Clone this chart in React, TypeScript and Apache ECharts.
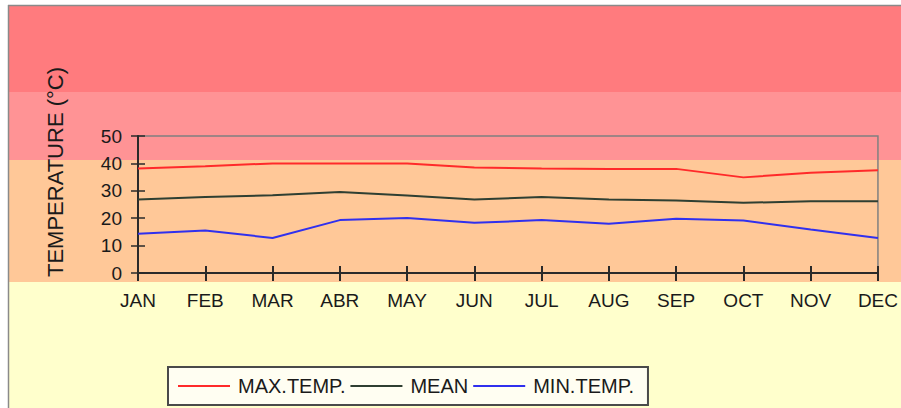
import React, { useEffect, useRef } from "react";
import * as echarts from "echarts";

const months = ["JAN", "FEB", "MAR", "ABR", "MAY", "JUN", "JUL", "AUG", "SEP", "OCT", "NOV", "DEC"];
const maxTemp = [38.1, 39, 40, 40, 40, 38.5, 38.1, 38, 38, 34.9, 36.6, 37.5];
const meanTemp = [26.8, 27.7, 28.4, 29.6, 28.3, 26.8, 27.7, 26.8, 26.5, 25.6, 26.2, 26.2];
const minTemp = [14.3, 15.5, 12.8, 19.3, 20.1, 18.3, 19.3, 18, 19.8, 19.2, 15.9, 12.8];
const seriesNames = ["MAX.TEMP.", "MEAN", "MIN.TEMP."];
const yAxisTitle = "TEMPERATURE (°C)";

const FONT = "'Liberation Sans', Arial, sans-serif";

export default function App() {
  const ref = useRef<HTMLDivElement>(null);
  useEffect(() => {
    if (!ref.current) return;
    const chart = echarts.init(ref.current, null, { renderer: "svg" });
    const axisColor = "#2a2a2a";
    chart.setOption({
      animation: false,
      textStyle: { fontFamily: FONT },
      grid: {
        left: 138,
        right: 23,
        top: 136,
        bottom: 135,
        show: true,
        borderColor: "#808080",
        borderWidth: 1.5,
        backgroundColor: "transparent",
      },
      graphic: [
        { type: "rect", z: -10, shape: { x: 8, y: 5, width: 893, height: 87 }, style: { fill: "#FF7B7E" } },
        { type: "rect", z: -10, shape: { x: 8, y: 92, width: 893, height: 68 }, style: { fill: "#FF9395" } },
        { type: "rect", z: -10, shape: { x: 8, y: 160, width: 893, height: 122 }, style: { fill: "#FFC898" } },
        { type: "rect", z: -10, shape: { x: 8, y: 282, width: 893, height: 126 }, style: { fill: "#FFFFCC" } },
        { type: "line", z: -9, shape: { x1: 8.5, y1: 5, x2: 8.5, y2: 408 }, style: { stroke: "#8a8a8a", lineWidth: 1.5 } },
        { type: "line", z: -9, shape: { x1: 8, y1: 5.5, x2: 901, y2: 5.5 }, style: { stroke: "#8a8a8a", lineWidth: 1.5 } },
        {
          type: "text",
          x: 55,
          y: 172,
          rotation: Math.PI / 2,
          style: {
            text: yAxisTitle,
            fontSize: 22,
            fontFamily: FONT,
            fill: "#1a1a1a",
            align: "center",
            verticalAlign: "middle",
          },
        },
      ],
      legend: {
        left: 168,
        top: 367,
        orient: "horizontal",
        icon: "rect",
        itemWidth: 52,
        itemHeight: 2,
        itemGap: 5,
        padding: [9, 14, 9, 10],
        borderColor: "#4a4a4a",
        borderWidth: 2,
        backgroundColor: "#FFFEF2",
        textStyle: { fontSize: 20, color: "#1a1a1a", fontFamily: FONT, padding: [0, 0, 0, 3] },
        data: seriesNames,
      },
      xAxis: [
        {
          type: "category",
          data: months,
          boundaryGap: false,
          axisLine: { lineStyle: { color: axisColor, width: 2 } },
          axisTick: { show: true, length: 8, lineStyle: { color: axisColor, width: 2 } },
          axisLabel: { fontSize: 19, color: "#1a1a1a", margin: 18, fontFamily: FONT },
          splitLine: { show: false },
        },
        {
          type: "category",
          data: months,
          boundaryGap: false,
          position: "bottom",
          axisLine: { show: false },
          axisTick: { show: true, inside: true, length: 7, lineStyle: { color: axisColor, width: 2 } },
          axisLabel: { show: false },
          splitLine: { show: false },
        },
      ],
      yAxis: [
        {
          type: "value",
          min: 0,
          max: 50,
          interval: 10,
          axisLine: { show: true, lineStyle: { color: axisColor, width: 2 } },
          axisTick: { show: true, length: 7, lineStyle: { color: axisColor, width: 1.5 } },
          axisLabel: { fontSize: 19, color: "#1a1a1a", margin: 16, fontFamily: FONT },
          splitLine: { show: false },
        },
        {
          type: "value",
          min: 0,
          max: 50,
          interval: 10,
          position: "left",
          axisLine: { show: false },
          axisTick: { show: true, inside: true, length: 7, lineStyle: { color: axisColor, width: 1.5 } },
          axisLabel: { show: false },
          splitLine: { show: false },
        },
      ],
      series: [
        {
          name: seriesNames[0],
          type: "line",
          data: maxTemp,
          symbol: "none",
          lineStyle: { color: "#FF2A2A", width: 2 },
          itemStyle: { color: "#FF2A2A" },
        },
        {
          name: seriesNames[1],
          type: "line",
          data: meanTemp,
          symbol: "none",
          lineStyle: { color: "#2F3F32", width: 2 },
          itemStyle: { color: "#2F3F32" },
        },
        {
          name: seriesNames[2],
          type: "line",
          data: minTemp,
          symbol: "none",
          lineStyle: { color: "#3030EE", width: 2 },
          itemStyle: { color: "#3030EE" },
        },
      ],
    });
    return () => chart.dispose();
  }, []);
  return (
    <div
      ref={ref}
      style={{ position: "fixed", left: 0, top: 0, width: 901, height: 408, background: "#ffffff" }}
    />
  );
}
